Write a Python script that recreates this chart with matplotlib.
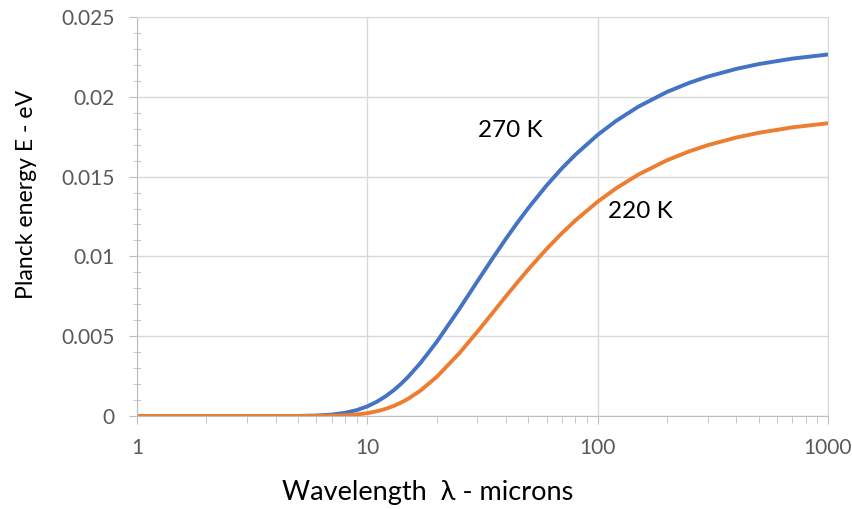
import matplotlib
matplotlib.use('Agg')
import matplotlib.pyplot as plt
from matplotlib.ticker import FixedLocator, FuncFormatter, MultipleLocator

# ==================== data ====================
wavelength = [1, 2, 3, 4, 5, 6, 7, 8, 9, 10, 11, 12, 13, 14, 15, 17, 20, 25, 30, 35,
              40, 45, 50, 60, 70, 80, 100, 120, 150, 200, 250, 300, 400, 500, 700, 1000]
energy_270 = [0.0, 0.0, 0.0, 5.1e-7, 5.84e-6, 2.87e-5, 8.77e-5, 0.000199, 0.000371,
              0.000604, 0.000895, 0.001233, 0.001609, 0.002014, 0.002437, 0.003318,
              0.00464, 0.006677, 0.008422, 0.009884, 0.011113, 0.012149, 0.01303,
              0.014445, 0.015525, 0.016371, 0.017616, 0.018482, 0.019378, 0.020307,
              0.020876, 0.021262, 0.021751, 0.02205, 0.022393, 0.022652]
energy_220 = [0.0, 0.0, 0.0, 2.5e-8, 5.2e-7, 3.8e-6, 1.55e-5, 4.37e-5, 9.63e-5,
              0.000179, 0.000296, 0.000446, 0.000627, 0.000837, 0.00107, 0.00159,
              0.002449, 0.003911, 0.005267, 0.006465, 0.007507, 0.008406, 0.009187,
              0.010466, 0.01146, 0.012252, 0.013428, 0.014258, 0.015124, 0.016026,
              0.016585, 0.016966, 0.01745, 0.017744, 0.018085, 0.018344]
y_ticks = [0, 0.005, 0.01, 0.015, 0.02, 0.025]
x_ticks = [1, 10, 100, 1000]

plt.rcParams['font.family'] = ['Lato', 'DejaVu Sans']

fig = plt.figure(figsize=(8.53, 5.09), dpi=100)
ax = fig.add_axes([0.1606, 0.1827, 0.8101, 0.7839])

# the two temperature curves
ax.plot(wavelength, energy_270, color='#4472C4', linewidth=2.8,
        solid_capstyle='round', solid_joinstyle='round')
ax.plot(wavelength, energy_220, color='#ED7D31', linewidth=2.8,
        solid_capstyle='round', solid_joinstyle='round')

ax.set_xscale('log')
ax.set_xlim(1, 1000)
ax.set_ylim(0, 0.025)

ax.xaxis.set_major_locator(FixedLocator(x_ticks))
ax.xaxis.set_major_formatter(FuncFormatter(lambda v, p: f'{v:g}'))
ax.yaxis.set_major_locator(FixedLocator(y_ticks))
ax.yaxis.set_minor_locator(MultipleLocator(0.001))
ax.yaxis.set_major_formatter(FuncFormatter(lambda v, p: f'{v:g}'))

grid_c = '#D9D9D9'
ax.grid(True, which='major', color=grid_c, linewidth=1.0)
ax.set_axisbelow(True)
for side in ['top', 'right']:
    ax.spines[side].set_color(grid_c)
for side in ['left', 'bottom']:
    ax.spines[side].set_color('#BFBFBF')

ax.tick_params(axis='both', which='major', colors='#BFBFBF', labelcolor='#595959',
               labelsize=15, length=6, direction='out')
ax.tick_params(axis='x', which='major', pad=10)
ax.tick_params(axis='x', which='minor', colors='#BFBFBF', length=5, direction='out')
ax.tick_params(axis='y', which='minor', colors='#BFBFBF', length=6, direction='inout')
ax.tick_params(axis='y', which='major', pad=10)

# axis titles (placed where the original chart has them, not centred)
ax.set_xlabel('Wavelength  λ - microns', fontsize=19.5, va='center')
ax.xaxis.set_label_coords(0.4204, -0.1905)
ax.set_ylabel('Planck energy E - eV', fontsize=16.6, va='center')
ax.yaxis.set_label_coords(-0.1606, 0.556)

ax.text(41.7, 0.0179, '270 K', fontsize=17.5, ha='center', va='center')
ax.text(153, 0.0128, '220 K', fontsize=17.5, ha='center', va='center')

plt.savefig('out.png', dpi=100)
